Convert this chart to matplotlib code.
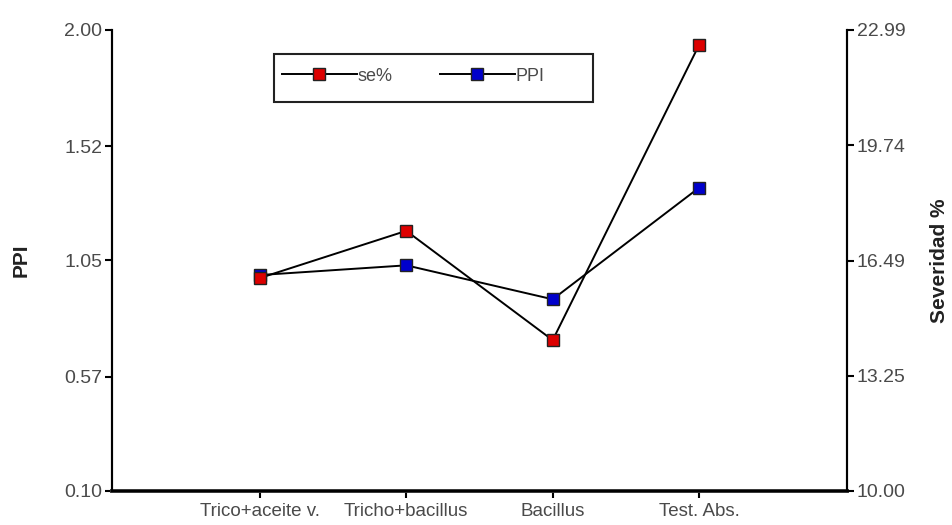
import matplotlib
matplotlib.use("Agg")
import matplotlib.pyplot as plt
from matplotlib.patches import Rectangle

# data
categorias = ["Trico+aceite v.", "Tricho+bacillus", "Bacillus", "Test. Abs."]
ppi = [0.99, 1.03, 0.89, 1.35]
severidad = [16.00, 17.33, 14.25, 22.57]

ppi_ticks = [0.10, 0.57, 1.05, 1.52, 2.00]
sev_ticks = [10.00, 13.25, 16.49, 19.74, 22.99]

plt.rcParams['font.family'] = ['Liberation Sans', 'DejaVu Sans']
txt = '#4a4a4a'

fig = plt.figure(figsize=(9.52, 5.25), dpi=100)
ax = fig.add_axes([0.1176, 0.0648, 0.7721, 0.8781])
ax2 = ax.twinx()

x = list(range(len(categorias)))
l1, = ax2.plot(x, severidad, color='black', lw=1.4, marker='s', ms=8.5,
               mfc='#dd0000', mec='#222222', mew=1.0, label='se%')
l2, = ax.plot(x, ppi, color='black', lw=1.4, marker='s', ms=8.5,
              mfc='#0000cc', mec='#222222', mew=1.0, label='PPI')

ax.set_xlim(-1.01, 4.01)
ax.set_ylim(0.10, 2.00)
ax2.set_ylim(10.00, 22.99)
ax.set_yticks(ppi_ticks)
ax.set_yticklabels(['%.2f' % v for v in ppi_ticks])
ax2.set_yticks(sev_ticks)
ax2.set_yticklabels(['%.2f' % v for v in sev_ticks])
ax.set_xticks(x)
ax.set_xticklabels(categorias)

for a in (ax, ax2):
    a.spines['top'].set_visible(False)
    for s in a.spines.values():
        s.set_linewidth(1.5)
    a.tick_params(direction='out', length=5, width=1.5, labelsize=14, labelcolor=txt, pad=2)
ax.tick_params(axis='x', labelsize=13.5, pad=4)
ax.spines['bottom'].set_linewidth(2.8)
ax.spines['bottom'].set_color('#333333')

ax.set_ylabel('PPI', fontsize=15, fontweight='bold', color='#222222')
ax.yaxis.set_label_coords(-0.11, 0.5)
ax2.set_ylabel('Severidad %', fontsize=15, fontweight='bold', color='#222222')
ax2.yaxis.set_label_coords(1.113, 0.5)

# legend box drawn on its own, entries placed inside it
ax.add_patch(Rectangle((0.2204, 0.8438), 0.434, 0.104, transform=ax.transAxes,
                       fill=False, lw=1.5, ec='#222222', zorder=5))
ax.legend([l1, l2], ['se%', 'PPI'], loc='center left', bbox_to_anchor=(0.2313, 0.900),
          ncol=2, frameon=False, fontsize=13, handlelength=4.15, borderpad=0,
          borderaxespad=0, columnspacing=2.6, handletextpad=0.05, labelcolor=txt)

fig.savefig('out.png', dpi=100)
